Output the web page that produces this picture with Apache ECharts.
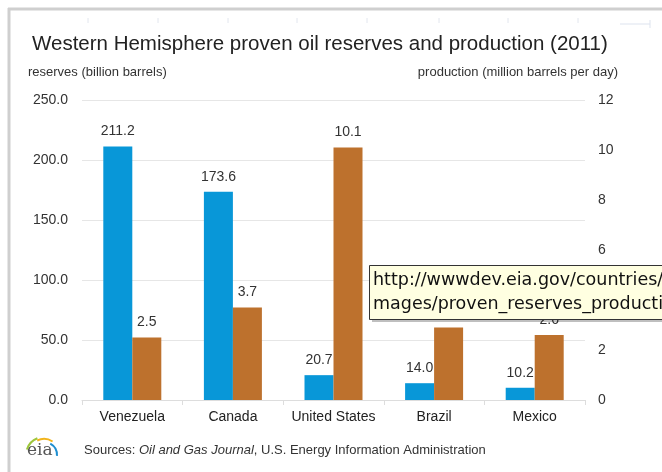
<!DOCTYPE html>
<html><head><meta charset="utf-8">
<script src="https://cdn.jsdelivr.net/npm/echarts@6/dist/echarts.min.js"></script>
<style>html,body{margin:0;padding:0;background:#fff}#c{width:662px;height:472px}</style>
</head><body><div id="c"></div>
<script>
const categories = ['Venezuela', 'Canada', 'United States', 'Brazil', 'Mexico'];
const reserves = [211.2, 173.6, 20.7, 14.0, 10.2];
const production = [2.5, 3.7, 10.1, 2.9, 2.6];
const reserveTicks = [0, 50, 100, 150, 200, 250];
const productionTicks = [0, 2, 4, 6, 8, 10, 12];

const FONT = '"Liberation Sans", Arial, sans-serif';
const rulerX = [88, 158, 228, 297, 367, 439, 508, 578];
const chart = echarts.init(document.getElementById('c'));
chart.setOption({
  animation: false,
  grid: { left: 82, right: 77, top: 100, bottom: 72 },
  title: {
    text: 'Western Hemisphere proven oil reserves and production (2011)',
    left: 27, top: 29,
    textStyle: { fontFamily: FONT, fontSize: 20.5, fontWeight: 'normal', color: '#222' }
  },
  xAxis: {
    type: 'category', data: categories,
    axisLine: { lineStyle: { color: '#ddd' } },
    axisTick: { show: true, lineStyle: { color: '#ddd' }, length: 5 },
    axisLabel: { interval: 0, fontFamily: FONT, fontSize: 14, color: '#222', margin: 10 }
  },
  yAxis: [{
    type: 'value', min: reserveTicks[0], max: reserveTicks[reserveTicks.length - 1], interval: 50,
    name: 'reserves (billion barrels)', nameLocation: 'end', nameGap: 21,
    nameTextStyle: { fontFamily: FONT, fontSize: 13, color: '#333', align: 'left', padding: [0, 0, 0, -54] },
    axisLine: { show: false }, axisTick: { show: false },
    axisLabel: { fontFamily: FONT, fontSize: 14, color: '#333', margin: 14, formatter: v => v.toFixed(1) },
    splitLine: { lineStyle: { color: '#e6e6e6' } }
  }, {
    type: 'value', min: productionTicks[0], max: productionTicks[productionTicks.length - 1], interval: 2,
    name: 'production (million barrels per day)', nameLocation: 'end', nameGap: 21,
    nameTextStyle: { fontFamily: FONT, fontSize: 13, color: '#333', align: 'right', padding: [0, -33, 0, 0] },
    axisLine: { show: false }, axisTick: { show: false },
    axisLabel: { fontFamily: FONT, fontSize: 14, color: '#333', margin: 13 },
    splitLine: { show: false }
  }],
  series: [{
    type: 'bar', name: 'reserves', data: reserves, yAxisIndex: 0,
    barWidth: 29, barGap: '0%',
    itemStyle: { color: '#0897d8' },
    label: { show: true, position: 'top', distance: 8, fontFamily: FONT, fontSize: 14, color: '#333',
      formatter: p => p.value.toFixed(1) }
  }, {
    type: 'bar', name: 'production', data: production, yAxisIndex: 1,
    barWidth: 29, barGap: '0%',
    itemStyle: { color: '#bd712d' },
    label: { show: true, position: 'top', distance: 8, fontFamily: FONT, fontSize: 14, color: '#333',
      formatter: p => p.value.toFixed(1) }
  }],
  graphic: [
    { type: 'line', shape: { x1: 8, y1: 9, x2: 662, y2: 9 }, style: { stroke: '#cfcfcf', lineWidth: 3 }, z: 100 },
    { type: 'line', shape: { x1: 9, y1: 8, x2: 9, y2: 472 }, style: { stroke: '#cfcfcf', lineWidth: 3 }, z: 100 },
    ...rulerX.map(x => ({ type: 'line', shape: { x1: x, y1: 18, x2: x, y2: 23 }, style: { stroke: '#e2e6ee', lineWidth: 1 }, z: 100 })),
    { type: 'line', shape: { x1: 620, y1: 24, x2: 650, y2: 24 }, style: { stroke: '#dde3ee', lineWidth: 1 }, z: 100 },
    { type: 'line', shape: { x1: 650, y1: 20, x2: 650, y2: 28 }, style: { stroke: '#dde3ee', lineWidth: 1 }, z: 100 },
    { type: 'text', left: 27, top: 442, style: { text: 'eia', font: '17px "DejaVu Serif", serif', fill: '#555' }, z: 100 },
    { type: 'arc', shape: { cx: 44, cy: 455, r: 18, startAngle: -Math.PI * 0.9, endAngle: -Math.PI * 0.62 }, style: { stroke: '#9dc63c', lineWidth: 2, fill: null }, z: 100 },
    { type: 'arc', shape: { cx: 44, cy: 455, r: 16, startAngle: -Math.PI * 0.64, endAngle: -Math.PI * 0.32 }, style: { stroke: '#f2b41c', lineWidth: 2, fill: null }, z: 100 },
    { type: 'arc', shape: { cx: 44, cy: 455, r: 13, startAngle: -Math.PI * 0.34, endAngle: Math.PI * 0.02 }, style: { stroke: '#1e8ed0', lineWidth: 2, fill: null }, z: 100 },
    { type: 'text', left: 84, top: 444, z: 100,
      style: { text: '{n|Sources: }{i|Oil and Gas Journal}{n|, U.S. Energy Information Administration}',
        rich: { n: { fontFamily: FONT, fontSize: 13, fill: '#333' }, i: { fontFamily: FONT, fontSize: 13, fontStyle: 'italic', fill: '#333' } } } },
    { type: 'rect', shape: { x: 372, y: 268, width: 300, height: 54 }, style: { fill: 'rgba(0,0,0,0.25)' }, z: 199 },
    { type: 'rect', shape: { x: 369.5, y: 265.5, width: 300, height: 54 }, style: { fill: '#ffffe1', stroke: '#333', lineWidth: 1 }, z: 200 },
    { type: 'text', left: 373, top: 268, z: 201,
      style: { text: 'http://wwwdev.eia.gov/countries/\nmages/proven_reserves_production', font: '17.5px "DejaVu Sans", sans-serif', lineHeight: 24, fill: '#111' } }
  ]
});
</script></body></html>
